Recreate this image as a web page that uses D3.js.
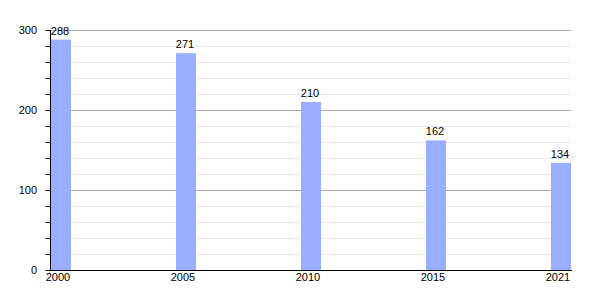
<!DOCTYPE html>
<html><head><meta charset="utf-8">
<script src="https://cdn.jsdelivr.net/npm/d3@7"></script>
<style>body{margin:0;background:#fff}svg{display:block}text{font-family:"Liberation Sans",Arial,sans-serif;font-size:11px;fill:#000}</style>
</head><body><svg id="c" width="600" height="300"></svg>
<script>
const years = ["2000","2005","2010","2015","2021"];
const values = [288, 271, 210, 162, 134];
const yMajorTicks = [0, 100, 200, 300];

const svg = d3.select("#c");
const x = d3.scalePoint().domain(years).range([61, 561]);
const y = d3.scaleLinear().domain([0, 300]).range([270, 30]);
const minor = d3.range(20, 301, 20).filter(v => v % 100 !== 0);

// minor grid
svg.append("g").selectAll("line").data(minor).join("line")
  .attr("x1", 50).attr("x2", 571).attr("y1", d => y(d) + 0.5).attr("y2", d => y(d) + 0.5)
  .attr("stroke", "#e6e6e6").attr("stroke-width", 1);
// major grid
svg.append("g").selectAll("line").data(yMajorTicks.filter(d => d > 0)).join("line")
  .attr("x1", 50).attr("x2", 571).attr("y1", d => y(d) + 0.5).attr("y2", d => y(d) + 0.5)
  .attr("stroke", "#a8a8a8").attr("stroke-width", 1);

// bars
svg.append("g").selectAll("rect").data(values).join("rect")
  .attr("x", (d, i) => x(years[i]) - 10).attr("width", 20)
  .attr("y", d => y(d)).attr("height", d => y(0) - y(d))
  .attr("fill", "#9aaeff");

// value labels
svg.append("g").selectAll("text").data(values).join("text")
  .attr("x", (d, i) => x(years[i]) - 1).attr("y", d => y(d) - 5)
  .attr("text-anchor", "middle").text(d => d);

// left axis
const yAxis = d3.axisLeft(y).tickValues(d3.range(0, 301, 20)).tickSize(5).tickFormat("");
const ga = svg.append("g").attr("transform", "translate(50.5,0)").call(yAxis);
ga.select(".domain").remove();
ga.selectAll(".tick line").attr("stroke", "#000");
svg.append("line").attr("x1", 50.5).attr("x2", 50.5).attr("y1", y(300)).attr("y2", y(0)).attr("stroke", "#000");
svg.append("g").selectAll("text").data(yMajorTicks).join("text")
  .attr("x", 37).attr("y", d => y(d) + 4).attr("text-anchor", "end").text(d => d);

// bottom axis
svg.append("line").attr("x1", 50).attr("x2", 572).attr("y1", 270.5).attr("y2", 270.5).attr("stroke", "#000");
svg.append("g").selectAll("text").data(years).join("text")
  .attr("x", d => x(d) - 3).attr("y", 281).attr("text-anchor", "middle").text(d => d);
</script></body></html>
